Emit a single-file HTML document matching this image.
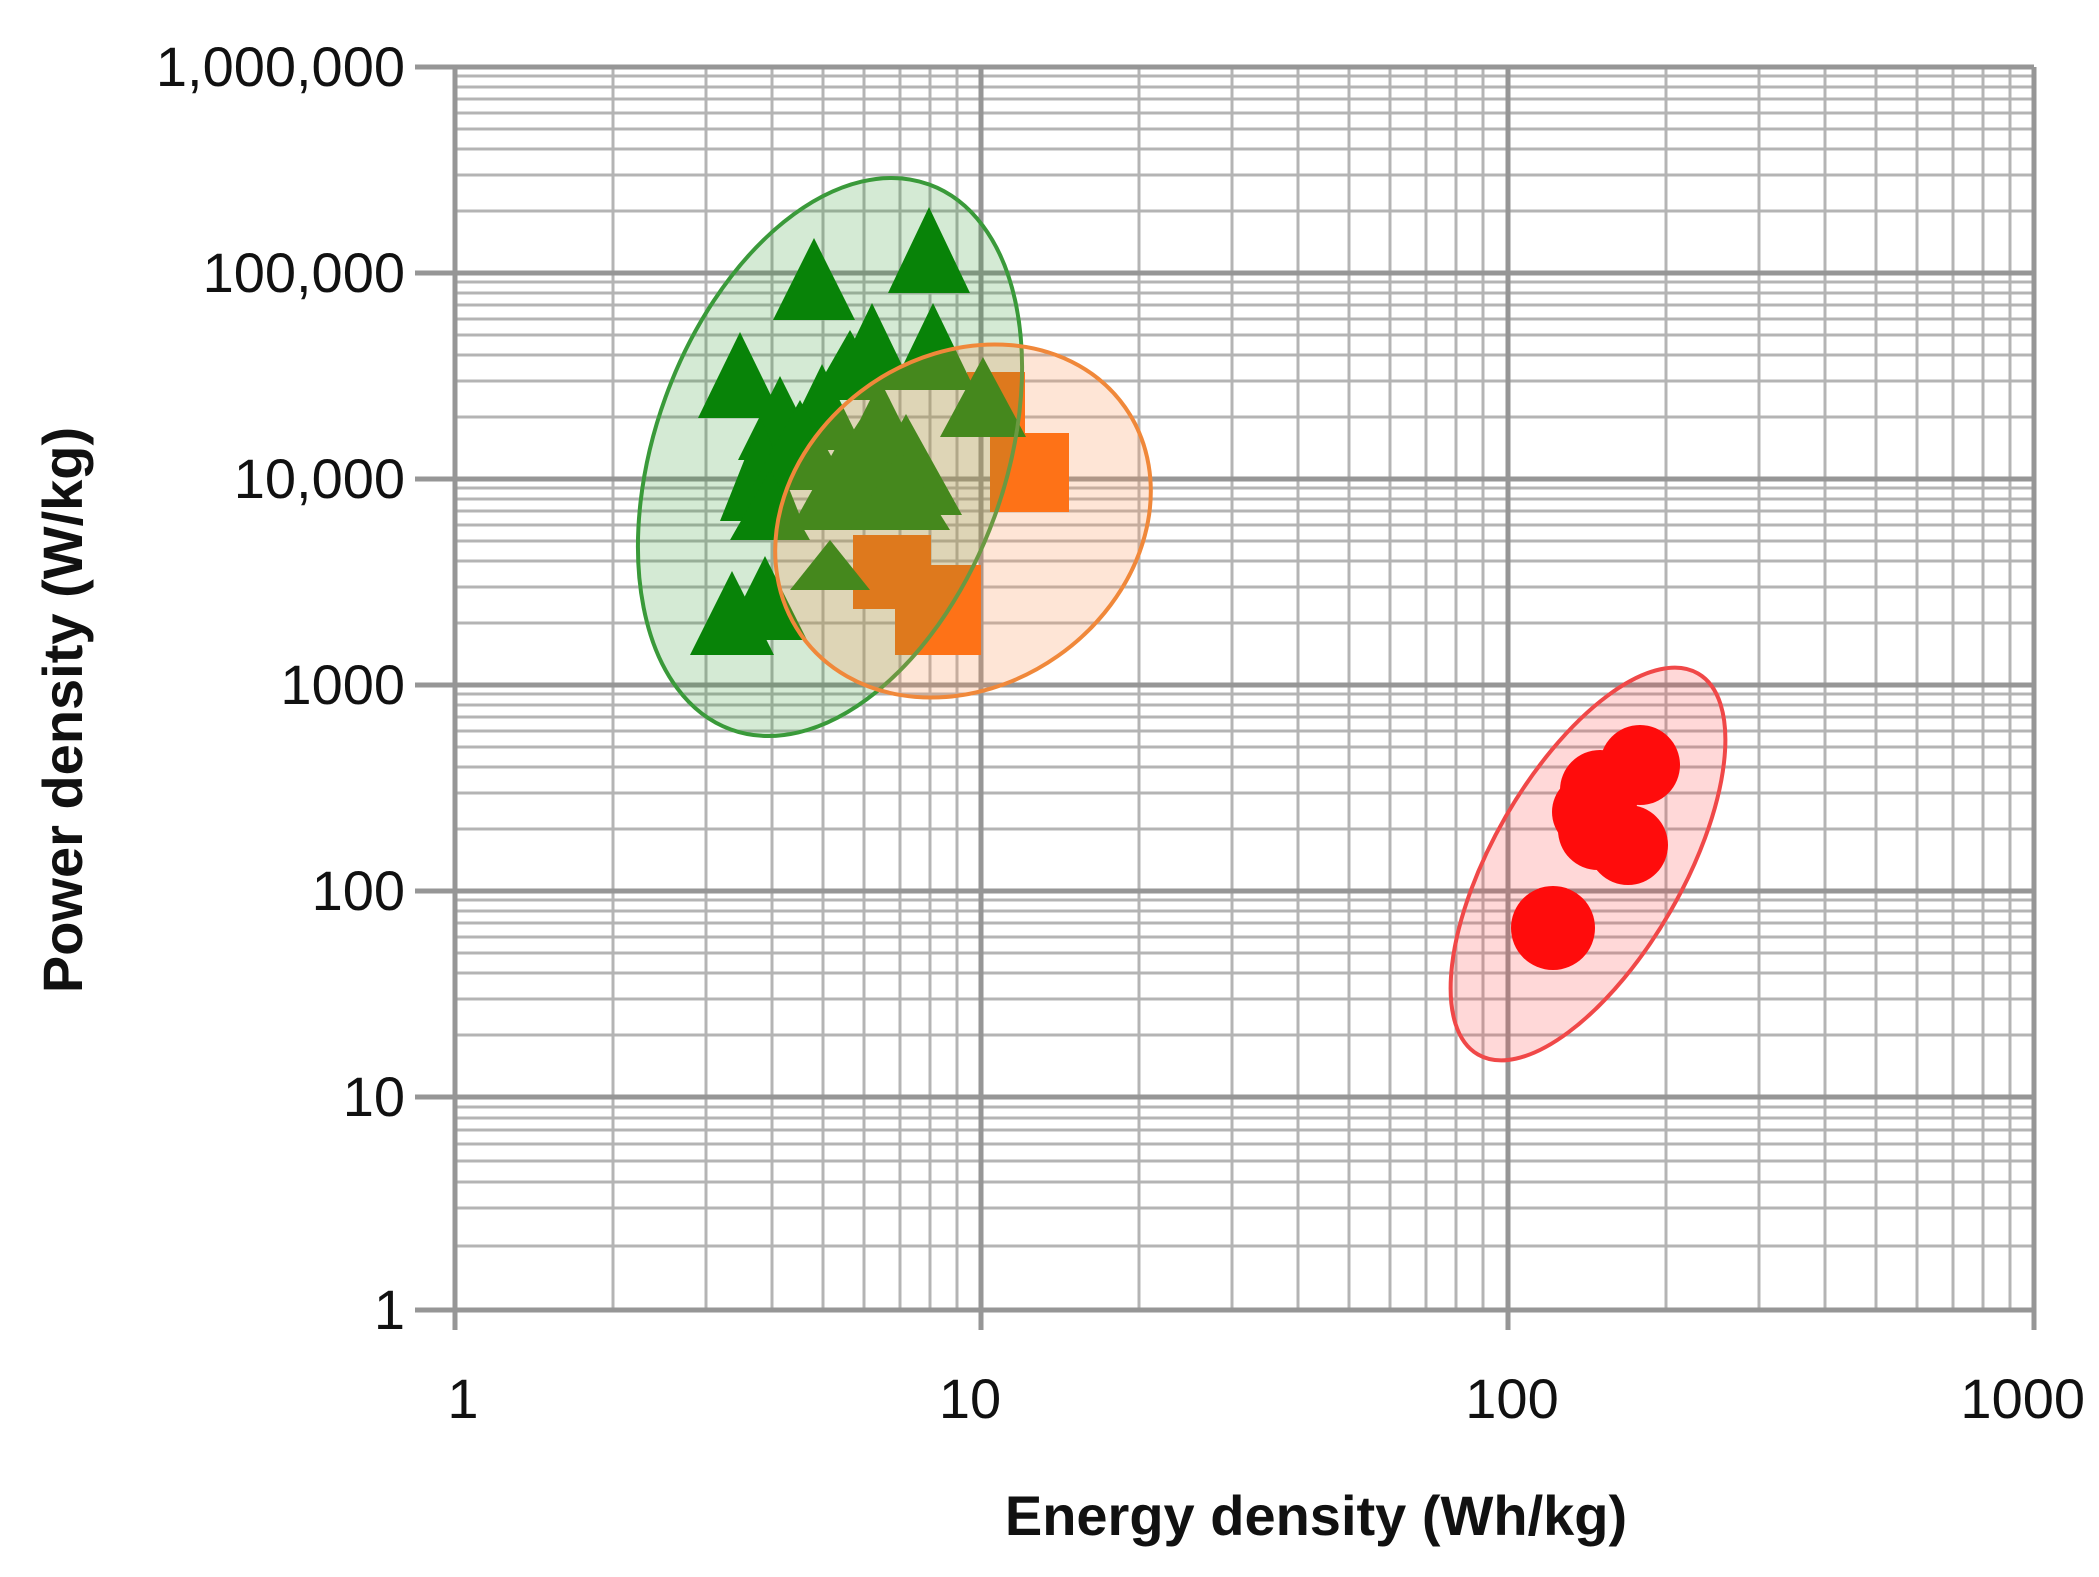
<!DOCTYPE html>
<html><head><meta charset="utf-8"><style>
html,body{margin:0;padding:0;background:#fff;}
svg{display:block;}
text{font-family:"Liberation Sans",sans-serif;fill:#111;}
</style></head><body>
<svg width="2099" height="1577" viewBox="0 0 2099 1577" xmlns="http://www.w3.org/2000/svg">
<g stroke="#b4b4b4" stroke-width="3" fill="none">
<path d="M613 67V1310M706 67V1310M772 67V1310M823 67V1310M864 67V1310M900 67V1310M930 67V1310M957 67V1310
M1139 67V1310M1232 67V1310M1298 67V1310M1349 67V1310M1390 67V1310M1426 67V1310M1456 67V1310M1483 67V1310
M1666 67V1310M1759 67V1310M1825 67V1310M1876 67V1310M1917 67V1310M1953 67V1310M1983 67V1310M2010 67V1310"/>
<path d="M455 1246H2034M455 1208H2034M455 1182H2034M455 1161H2034M455 1144H2034M455 1130H2034M455 1118H2034M455 1107H2034
M455 1035H2034M455 999H2034M455 973H2034M455 953H2034M455 937H2034M455 923H2034M455 911H2034M455 900H2034
M455 829H2034M455 793H2034M455 767H2034M455 747H2034M455 731H2034M455 717H2034M455 705H2034M455 694H2034
M455 623H2034M455 587H2034M455 561H2034M455 541H2034M455 525H2034M455 511H2034M455 499H2034M455 488H2034
M455 417H2034M455 381H2034M455 355H2034M455 335H2034M455 319H2034M455 305H2034M455 293H2034M455 282H2034
M455 211H2034M455 175H2034M455 149H2034M455 129H2034M455 113H2034M455 99H2034M455 87H2034M455 76H2034"/>
</g>
<g stroke="#969696" stroke-width="5" fill="none">
<path d="M415 67H2034M415 273H2034M415 479H2034M415 685H2034M415 891H2034M415 1097H2034M415 1310H2034"/>
<path d="M455 67V1330M981 67V1330M1508 67V1330M2034 67V1330"/>
</g>
<g fill="#ff6600">
<rect x="967" y="372" width="58" height="61"/>
<rect x="990" y="433" width="79" height="79"/>
<rect x="895" y="565" width="86" height="90"/>
<rect x="853" y="535" width="78" height="74"/>
</g>
<g fill="#007f00">
<polygon points="814,238 773,320 855,320"/>
<polygon points="929,207 888,293 970,293"/>
<polygon points="740,332 698,418 782,418"/>
<polygon points="872,303 830,390 914,390"/>
<polygon points="933,303 891,390 975,390"/>
<polygon points="822,364 780,450 864,450"/>
<polygon points="780,376 738,460 822,460"/>
<polygon points="761,418 720,521 802,521"/>
<polygon points="906,414 850,515 962,515"/>
<polygon points="983,357 940,437 1026,437"/>
<polygon points="860,420 808,500 912,500"/>
<polygon points="732,571 690,655 774,655"/>
<polygon points="765,556 723,640 807,640"/>
<polygon points="830,540 790,590 870,590"/>
<polygon points="880,380 840,460 920,460"/>
<polygon points="800,400 750,490 850,490"/>
<polygon points="840,440 790,530 890,530"/>
<polygon points="900,450 850,530 950,530"/>
<polygon points="770,470 730,540 810,540"/>
<polygon points="850,330 810,400 890,400"/>
</g>
<g fill="#ff0000">
<circle cx="1553" cy="928" r="42"/>
<circle cx="1600" cy="790" r="40"/>
<circle cx="1640" cy="765" r="40"/>
<circle cx="1598" cy="830" r="40"/>
<circle cx="1628" cy="845" r="40"/>
<circle cx="1590" cy="812" r="38"/>
</g>
<ellipse cx="830" cy="457" rx="175" ry="290" transform="rotate(20 830 457)" fill="rgba(40,150,40,0.2)" stroke="#3a9a3a" stroke-width="4"/>
<ellipse cx="963" cy="521" rx="198" ry="165" transform="rotate(-35 963 521)" fill="rgba(250,150,90,0.25)" stroke="#f0883a" stroke-width="4"/>
<ellipse cx="1588" cy="864" rx="95" ry="220" transform="rotate(30 1588 864)" fill="rgba(255,60,60,0.2)" stroke="#f04848" stroke-width="4"/>
<g font-size="56" text-anchor="end">
<text x="405" y="86">1,000,000</text>
<text x="405" y="292">100,000</text>
<text x="405" y="498">10,000</text>
<text x="405" y="704">1000</text>
<text x="405" y="910">100</text>
<text x="405" y="1116">10</text>
<text x="405" y="1329">1</text>
</g>
<g font-size="56" text-anchor="middle">
<text x="463" y="1418">1</text>
<text x="970" y="1418">10</text>
<text x="1512" y="1418">100</text>
</g>
<text x="2085" y="1418" font-size="56" text-anchor="end">1000</text>
<text x="1316" y="1535" font-size="56" font-weight="bold" text-anchor="middle">Energy density (Wh/kg)</text>
<text transform="translate(82 710) rotate(-90)" font-size="56" font-weight="bold" text-anchor="middle">Power density (W/kg)</text>
</svg>
</body></html>
